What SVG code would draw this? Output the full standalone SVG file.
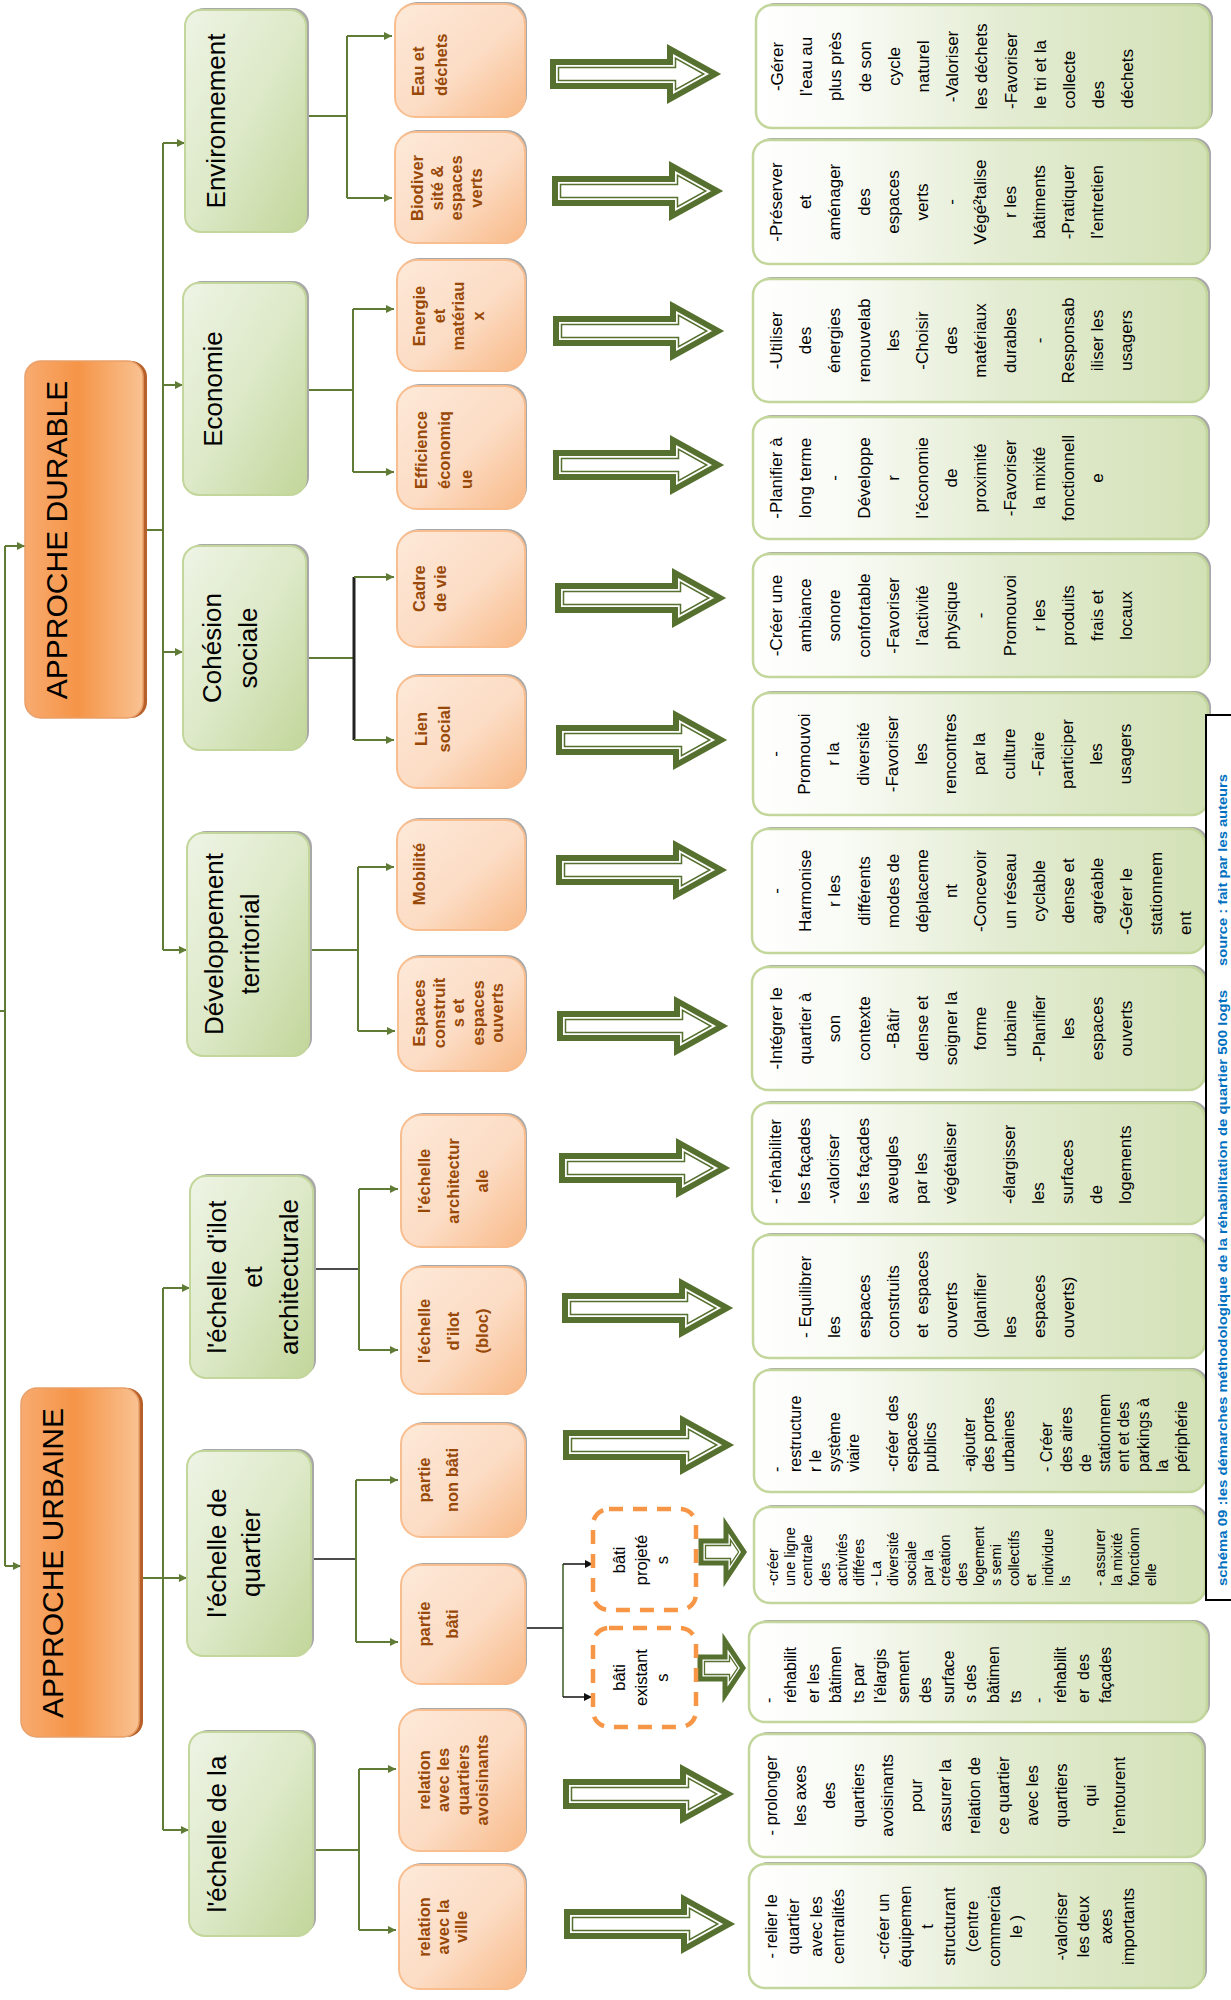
<svg xmlns="http://www.w3.org/2000/svg" xmlns:xlink="http://www.w3.org/1999/xlink" width="1231" height="2000" viewBox="0 0 1231 2000">
<defs>
<style>
text{font-family:"Liberation Sans",Arial,sans-serif;}
.l1{font-size:30px;fill:#000;text-anchor:middle}
.l2{font-size:26px;fill:#000;text-anchor:middle}
.l3{font-size:16.5px;font-weight:bold;fill:#984807;text-anchor:middle}
.l3s{font-size:16.5px;font-weight:bold;fill:#984807;text-anchor:start}
.d{font-size:16.5px;fill:#000;text-anchor:middle}
.m{font-size:17px;fill:#000;text-anchor:middle}
.s{font-size:17px;fill:#000;text-anchor:start}
.cap{font-size:13px;font-weight:bold;fill:#0070c0}
.b1{fill:url(#g1);stroke:#e9a06a;stroke-width:1.5}
.b1s{fill:#b8602a}
.b2{fill:url(#g2);stroke:#c3d69b;stroke-width:2}
.b3{fill:url(#g3);stroke:#f9be8f;stroke-width:2}
.b4{fill:url(#g4);stroke:#c3d69b;stroke-width:2.5}
.sh{fill:#a8a8a8}
.dash{fill:#fff;stroke:#f79646;stroke-width:4.5;stroke-dasharray:14 10}
.cg{fill:none;stroke:#5f7b35;stroke-width:2}
.ck{fill:none;stroke:#111;stroke-width:1.5}
</style>
<linearGradient id="g1" x1="0" y1="0" x2="1" y2="0">
<stop offset="0" stop-color="#f8ab70"/><stop offset="0.45" stop-color="#f59447"/><stop offset="1" stop-color="#f9c292"/>
</linearGradient>
<linearGradient id="g2" x1="0" y1="0" x2="1" y2="1">
<stop offset="0" stop-color="#eef4e5"/><stop offset="0.5" stop-color="#dde9c8"/><stop offset="1" stop-color="#c2d69a"/>
</linearGradient>
<linearGradient id="g3" x1="0" y1="0" x2="1" y2="1">
<stop offset="0" stop-color="#fde9d9"/><stop offset="0.55" stop-color="#fcdcc4"/><stop offset="1" stop-color="#f8b987"/>
</linearGradient>
<linearGradient id="g4" x1="0" y1="0" x2="1" y2="0">
<stop offset="0" stop-color="#ffffff"/><stop offset="0.2" stop-color="#f9fbf5"/><stop offset="0.55" stop-color="#e3ecd2"/><stop offset="1" stop-color="#d3e1b6"/>
</linearGradient>
<marker id="ag" viewBox="0 0 10 10" refX="10" refY="5" markerWidth="11" markerHeight="8" markerUnits="userSpaceOnUse" orient="auto"><path d="M0,0 L10,5 L0,10 z" fill="#5f7b35"/></marker>
<marker id="ak" viewBox="0 0 10 10" refX="10" refY="5" markerWidth="11" markerHeight="8" markerUnits="userSpaceOnUse" orient="auto"><path d="M0,0 L10,5 L0,10 z" fill="#111"/></marker>
<g id="ba">
<polygon points="3,-12 120,-12 120,-25 165,0 120,25 120,12 3,12" fill="#fff" stroke="#56702f" stroke-width="6"/>
<polygon points="8.5,-6.5 125.5,-6.5 125.5,-15.65 153.7,0 125.5,15.65 125.5,6.5 8.5,6.5" fill="none" stroke="#56702f" stroke-width="1.5"/>
</g>
<g id="sa">
<polygon points="2,-11 27,-11 27,-27 45,0 27,27 27,11 2,11" fill="#fff" stroke="#56702f" stroke-width="5"/>
<polygon points="6.5,-6.5 31.5,-6.5 31.5,-12.2 39.6,0 31.5,12.2 31.5,6.5 6.5,6.5" fill="none" stroke="#56702f" stroke-width="1.3"/>
</g>
</defs>
<rect width="1231" height="2000" fill="#fff"/>

<g id="connectors">
<path class="cg" d="M0,1011 H5 M5,546 V1566"/>
<path class="cg" marker-end="url(#ag)" d="M5,546 H25"/>
<path class="cg" marker-end="url(#ag)" d="M5,1566 H21"/>
<path class="cg" d="M147,530 H163 M163,143 V950"/>
<path class="cg" marker-end="url(#ag)" d="M163,143 H185"/>
<path class="cg" marker-end="url(#ag)" d="M163,385 H183"/>
<path class="cg" marker-end="url(#ag)" d="M163,652 H183"/>
<path class="cg" marker-end="url(#ag)" d="M163,950 H187"/>
<path class="cg" d="M143,1578 H163 M163,1288 V1830"/>
<path class="cg" marker-end="url(#ag)" d="M163,1288 H190"/>
<path class="cg" marker-end="url(#ag)" d="M163,1578 H187"/>
<path class="cg" marker-end="url(#ag)" d="M163,1830 H189"/>
<path class="cg" d="M306,116 H347 M347,36 V198"/>
<path class="cg" marker-end="url(#ag)" d="M347,36 H392"/>
<path class="cg" marker-end="url(#ag)" d="M347,198 H392"/>
<path class="cg" d="M306,390 H353 M353,309 V472"/>
<path class="cg" marker-end="url(#ag)" d="M353,309 H394"/>
<path class="cg" marker-end="url(#ag)" d="M353,472 H394"/>
<path class="cg" d="M306,658 H354"/>
<path fill="none" stroke="#222" stroke-width="3" d="M354,577 V740"/>
<path class="cg" marker-end="url(#ag)" d="M354,577 H394"/>
<path class="cg" marker-end="url(#ag)" d="M354,740 H394"/>
<path class="cg" d="M309,950 H358 M358,867 V1031"/>
<path class="cg" marker-end="url(#ag)" d="M358,867 H394"/>
<path class="cg" marker-end="url(#ag)" d="M358,1031 H395"/>
<path class="ck" d="M313,1269 H359"/>
<path class="cg" d="M359,1189 V1350"/>
<path class="cg" marker-end="url(#ag)" d="M359,1189 H398"/>
<path class="cg" marker-end="url(#ag)" d="M359,1350 H398"/>
<path class="ck" d="M311,1559 H356"/>
<path class="cg" d="M356,1480 V1642"/>
<path class="cg" marker-end="url(#ag)" d="M356,1480 H398"/>
<path class="cg" marker-end="url(#ag)" d="M356,1642 H398"/>
<path class="cg" d="M313,1850 H359 M359,1769 V1930"/>
<path class="cg" marker-end="url(#ag)" d="M359,1769 H396"/>
<path class="cg" marker-end="url(#ag)" d="M359,1930 H396"/>
<path class="ck" d="M525,1628 H563"/>
<path fill="none" stroke="#3d5a22" stroke-width="1.5" d="M563,1564 V1697"/>
<path class="ck" marker-end="url(#ak)" d="M563,1564 H593"/>
<path class="ck" marker-end="url(#ak)" d="M563,1697 H592"/>
<use href="#ba" transform="translate(550,74)"/>
<use href="#ba" transform="translate(552,191)"/>
<use href="#ba" transform="translate(553,331)"/>
<use href="#ba" transform="translate(553,465)"/>
<use href="#ba" transform="translate(555,598)"/>
<use href="#ba" transform="translate(556,740)"/>
<use href="#ba" transform="translate(556,870)"/>
<use href="#ba" transform="translate(557,1026)"/>
<use href="#ba" transform="translate(559,1168)"/>
<use href="#ba" transform="translate(562,1308)"/>
<use href="#ba" transform="translate(563,1445)"/>
<use href="#sa" transform="translate(699,1552)"/>
<use href="#sa" transform="translate(698,1668)"/>
<use href="#ba" transform="translate(563,1794)"/>
<use href="#ba" transform="translate(564,1924)"/>
</g>

<g id="approche-durable">
<rect class="b1s" x="29" y="361" width="118" height="357" rx="16"/>
<rect class="b1" x="25" y="361" width="118" height="357" rx="16"/>
<text class="l1" transform="translate(67,540) rotate(-90)">APPROCHE DURABLE</text>
</g>
<g id="approche-urbaine">
<rect class="b1s" x="25" y="1388" width="118" height="349" rx="16"/>
<rect class="b1" x="21" y="1388" width="118" height="349" rx="16"/>
<text class="l1" transform="translate(63,1563) rotate(-90)">APPROCHE URBAINE</text>
</g>

<g id="environnement">
<rect class="sh" x="188" y="8" width="121" height="222" rx="16"/>
<rect class="b2" x="185" y="10" width="121" height="222" rx="16"/>
<text class="l2" transform="translate(225,121) rotate(-90)">Environnement</text>
</g>
<g id="economie">
<rect class="sh" x="186" y="281" width="123" height="212" rx="16"/>
<rect class="b2" x="183" y="283" width="123" height="212" rx="16"/>
<text class="l2" transform="translate(222,389) rotate(-90)">Economie</text>
</g>
<g id="cohesion">
<rect class="sh" x="186" y="544" width="123" height="204" rx="16"/>
<rect class="b2" x="183" y="546" width="123" height="204" rx="16"/>
<text class="l2" transform="translate(221,648) rotate(-90)"><tspan x="0" y="0">Cohésion</tspan><tspan x="0" y="36">sociale</tspan></text>
</g>
<g id="developpement">
<rect class="sh" x="190" y="831" width="122" height="223" rx="16"/>
<rect class="b2" x="187" y="833" width="122" height="223" rx="16"/>
<text class="l2" transform="translate(223,944) rotate(-90)"><tspan x="0" y="0">Développement</tspan><tspan x="0" y="36">territorial</tspan></text>
</g>
<g id="echelle-ilot">
<rect class="sh" x="193" y="1174" width="123" height="202" rx="16"/>
<rect class="b2" x="190" y="1176" width="123" height="202" rx="16"/>
<text class="l2" transform="translate(226,1277) rotate(-90)"><tspan x="0" y="0">l'échelle d'ilot</tspan><tspan x="0" y="36">et</tspan><tspan x="0" y="72">architecturale</tspan></text>
</g>
<g id="echelle-quartier">
<rect class="sh" x="190" y="1449" width="124" height="205" rx="16"/>
<rect class="b2" x="187" y="1451" width="124" height="205" rx="16"/>
<text class="l2" transform="translate(226,1553) rotate(-90)"><tspan x="0" y="0">l'échelle de</tspan><tspan x="0" y="34">quartier</tspan></text>
</g>
<g id="echelle-ville">
<rect class="sh" x="192" y="1730" width="124" height="204" rx="16"/>
<rect class="b2" x="189" y="1732" width="124" height="204" rx="16"/>
<text class="l2" transform="translate(226,1834) rotate(-90)">l'échelle de la</text>
</g>

<g id="eau">
<rect class="sh" x="397" y="2" width="130" height="113" rx="20"/>
<rect class="b3" x="395" y="4" width="130" height="113" rx="20"/>
<text class="l3s" transform="translate(424,96) rotate(-90)"><tspan x="0" y="0">Eau et</tspan><tspan x="0" y="23">déchets</tspan></text>
</g>
<g id="biodiversite">
<rect class="sh" x="397" y="130" width="130" height="111" rx="20"/>
<rect class="b3" x="395" y="132" width="130" height="111" rx="20"/>
<text class="l3" transform="translate(423,188) rotate(-90)"><tspan x="0" y="0">Biodiver</tspan><tspan x="0" y="19.7">sité &amp;</tspan><tspan x="0" y="39.4">espaces</tspan><tspan x="0" y="59.1">verts</tspan></text>
</g>
<g id="energie">
<rect class="sh" x="399" y="258" width="128" height="111" rx="20"/>
<rect class="b3" x="397" y="260" width="128" height="111" rx="20"/>
<text class="l3" transform="translate(425,316) rotate(-90)"><tspan x="0" y="0">Energie</tspan><tspan x="0" y="19.7">et</tspan><tspan x="0" y="39.4">matériau</tspan><tspan x="0" y="59.1">x</tspan></text>
</g>
<g id="efficience">
<rect class="sh" x="399" y="384" width="128" height="123" rx="20"/>
<rect class="b3" x="397" y="386" width="128" height="123" rx="20"/>
<text class="l3s" transform="translate(427,489) rotate(-90)"><tspan x="0" y="0">Efficience</tspan><tspan x="0" y="22.5">économiq</tspan><tspan x="0" y="45">ue</tspan></text>
</g>
<g id="cadre">
<rect class="sh" x="399" y="529" width="128" height="116" rx="20"/>
<rect class="b3" x="397" y="531" width="128" height="116" rx="20"/>
<text class="l3s" transform="translate(425,612) rotate(-90)"><tspan x="0" y="0">Cadre</tspan><tspan x="0" y="21">de vie</tspan></text>
</g>
<g id="lien">
<rect class="sh" x="399" y="674" width="128" height="112" rx="20"/>
<rect class="b3" x="397" y="676" width="128" height="112" rx="20"/>
<text class="l3" transform="translate(427,729) rotate(-90)"><tspan x="0" y="0">Lien</tspan><tspan x="0" y="23">social</tspan></text>
</g>
<g id="mobilite">
<rect class="sh" x="399" y="818" width="128" height="110" rx="20"/>
<rect class="b3" x="397" y="820" width="128" height="110" rx="20"/>
<text class="l3" transform="translate(425,874) rotate(-90)">Mobilité</text>
</g>
<g id="espaces">
<rect class="sh" x="400" y="955" width="127" height="114" rx="20"/>
<rect class="b3" x="398" y="957" width="127" height="114" rx="20"/>
<text class="l3" transform="translate(425,1013) rotate(-90)"><tspan x="0" y="0">Espaces</tspan><tspan x="0" y="19.5">construit</tspan><tspan x="0" y="39">s et</tspan><tspan x="0" y="58.5">espaces</tspan><tspan x="0" y="78">ouverts</tspan></text>
</g>
<g id="architecturale">
<rect class="sh" x="403" y="1113" width="124" height="132" rx="20"/>
<rect class="b3" x="401" y="1115" width="124" height="132" rx="20"/>
<text class="l3" transform="translate(430,1181) rotate(-90)"><tspan x="0" y="0">l'échelle</tspan><tspan x="0" y="29">architectur</tspan><tspan x="0" y="58">ale</tspan></text>
</g>
<g id="ilot">
<rect class="sh" x="403" y="1265" width="124" height="127" rx="20"/>
<rect class="b3" x="401" y="1267" width="124" height="127" rx="20"/>
<text class="l3" transform="translate(430,1331) rotate(-90)"><tspan x="0" y="0">l'échelle</tspan><tspan x="0" y="29">d'ilot</tspan><tspan x="0" y="58">(bloc)</tspan></text>
</g>
<g id="non-bati">
<rect class="sh" x="403" y="1422" width="124" height="113" rx="20"/>
<rect class="b3" x="401" y="1424" width="124" height="113" rx="20"/>
<text class="l3" transform="translate(430,1480) rotate(-90)"><tspan x="0" y="0">partie</tspan><tspan x="0" y="28">non bâti</tspan></text>
</g>
<g id="bati">
<rect class="sh" x="403" y="1563" width="124" height="119" rx="20"/>
<rect class="b3" x="401" y="1565" width="124" height="119" rx="20"/>
<text class="l3" transform="translate(430,1624) rotate(-90)"><tspan x="0" y="0">partie</tspan><tspan x="0" y="28">bâti</tspan></text>
</g>
<g id="relation-quartiers">
<rect class="sh" x="401" y="1708" width="126" height="141" rx="20"/>
<rect class="b3" x="399" y="1710" width="126" height="141" rx="20"/>
<text class="l3" transform="translate(430,1780) rotate(-90)"><tspan x="0" y="0">relation</tspan><tspan x="0" y="19.3">avec les</tspan><tspan x="0" y="38.6">quartiers</tspan><tspan x="0" y="57.9">avoisinants</tspan></text>
</g>
<g id="relation-ville">
<rect class="sh" x="401" y="1863" width="126" height="124" rx="20"/>
<rect class="b3" x="399" y="1865" width="126" height="124" rx="20"/>
<text class="l3" transform="translate(430,1927) rotate(-90)"><tspan x="0" y="0">relation</tspan><tspan x="0" y="18.5">avec la</tspan><tspan x="0" y="37">ville</tspan></text>
</g>

<g id="bati-projetes">
<rect class="dash" x="593" y="1509" width="103" height="101" rx="16"/>
<text class="d" transform="translate(625,1560) rotate(-90)"><tspan x="0" y="0">bâti</tspan><tspan x="0" y="21.5">projeté</tspan><tspan x="0" y="43">s</tspan></text>
</g>
<g id="bati-existants">
<rect class="dash" x="593" y="1628" width="103" height="99" rx="16"/>
<text class="d" transform="translate(625,1677.5) rotate(-90)"><tspan x="0" y="0">bâti</tspan><tspan x="0" y="21.5">existant</tspan><tspan x="0" y="43">s</tspan></text>
</g>

<g id="box1">
<rect class="sh" x="759" y="3" width="454" height="123" rx="16"/>
<rect class="b4" x="756" y="5" width="454" height="123" rx="16"/>
<text transform="translate(783,66.5) rotate(-90)"><tspan class="m" x="0" y="0">-Gérer</tspan><tspan class="m" x="0" y="29.2">l’eau au</tspan><tspan class="m" x="0" y="58.4">plus près</tspan><tspan class="m" x="0" y="87.6">de son</tspan><tspan class="m" x="0" y="116.8">cycle</tspan><tspan class="m" x="0" y="146">naturel</tspan><tspan class="m" x="0" y="175.2">-Valoriser</tspan><tspan class="m" x="0" y="204.4">les déchets</tspan><tspan class="s" x="-42.5" y="233.6">-Favoriser</tspan><tspan class="s" x="-42.5" y="262.8">le tri et la</tspan><tspan class="s" x="-42" y="292">collecte</tspan><tspan class="s" x="-42" y="321.2">des</tspan><tspan class="s" x="-42" y="350.4">déchets</tspan></text>
</g>
<g id="box2">
<rect class="sh" x="756" y="138" width="455" height="124" rx="16"/>
<rect class="b4" x="753" y="140" width="455" height="124" rx="16"/>
<text class="m" transform="translate(782,202) rotate(-90)"><tspan x="0" y="0">-Préserver</tspan><tspan x="0" y="29.2">et</tspan><tspan x="0" y="58.4">aménager</tspan><tspan x="0" y="87.6">des</tspan><tspan x="0" y="116.8">espaces</tspan><tspan x="0" y="146">verts</tspan><tspan x="0" y="175.2">-</tspan><tspan x="0" y="204.4">Végé²talise</tspan><tspan x="0" y="233.6">r les</tspan><tspan x="0" y="262.8">bâtiments</tspan><tspan x="0" y="292">-Pratiquer</tspan><tspan x="0" y="321.2">l’entretien</tspan></text>
</g>
<g id="box3">
<rect class="sh" x="756" y="277" width="454" height="123" rx="16"/>
<rect class="b4" x="753" y="279" width="454" height="123" rx="16"/>
<text class="m" transform="translate(782,340.5) rotate(-90)"><tspan x="0" y="0">-Utiliser</tspan><tspan x="0" y="29.2">des</tspan><tspan x="0" y="58.4">énergies</tspan><tspan x="0" y="87.6">renouvelab</tspan><tspan x="0" y="116.8">les</tspan><tspan x="0" y="146">-Choisir</tspan><tspan x="0" y="175.2">des</tspan><tspan x="0" y="204.4">matériaux</tspan><tspan x="0" y="233.6">durables</tspan><tspan x="0" y="262.8">-</tspan><tspan x="0" y="292">Responsab</tspan><tspan x="0" y="321.2">iliser les</tspan><tspan x="0" y="350.4">usagers</tspan></text>
</g>
<g id="box4">
<rect class="sh" x="756" y="415" width="454" height="122" rx="16"/>
<rect class="b4" x="753" y="417" width="454" height="122" rx="16"/>
<text class="m" transform="translate(782,478) rotate(-90)"><tspan x="0" y="0">-Planifier à</tspan><tspan x="0" y="29.2">long terme</tspan><tspan x="0" y="58.4">-</tspan><tspan x="0" y="87.6">Développe</tspan><tspan x="0" y="116.8">r</tspan><tspan x="0" y="146">l’économie</tspan><tspan x="0" y="175.2">de</tspan><tspan x="0" y="204.4">proximité</tspan><tspan x="0" y="233.6">-Favoriser</tspan><tspan x="0" y="262.8">la mixité</tspan><tspan x="0" y="292">fonctionnell</tspan><tspan x="0" y="321.2">e</tspan></text>
</g>
<g id="box5">
<rect class="sh" x="756" y="552" width="455" height="123" rx="16"/>
<rect class="b4" x="753" y="554" width="455" height="123" rx="16"/>
<text class="m" transform="translate(782,615.5) rotate(-90)"><tspan x="0" y="0">-Créer une</tspan><tspan x="0" y="29.2">ambiance</tspan><tspan x="0" y="58.4">sonore</tspan><tspan x="0" y="87.6">confortable</tspan><tspan x="0" y="116.8">-Favoriser</tspan><tspan x="0" y="146">l’activité</tspan><tspan x="0" y="175.2">physique</tspan><tspan x="0" y="204.4">-</tspan><tspan x="0" y="233.6">Promouvoi</tspan><tspan x="0" y="262.8">r les</tspan><tspan x="0" y="292">produits</tspan><tspan x="0" y="321.2">frais et</tspan><tspan x="0" y="350.4">locaux</tspan></text>
</g>
<g id="box6">
<rect class="sh" x="756" y="691" width="455" height="122" rx="16"/>
<rect class="b4" x="753" y="693" width="455" height="122" rx="16"/>
<text class="m" transform="translate(781,754) rotate(-90)"><tspan x="0" y="0">-</tspan><tspan x="0" y="29.2">Promouvoi</tspan><tspan x="0" y="58.4">r la</tspan><tspan x="0" y="87.6">diversité</tspan><tspan x="0" y="116.8">-Favoriser</tspan><tspan x="0" y="146">les</tspan><tspan x="0" y="175.2">rencontres</tspan><tspan x="0" y="204.4">par la</tspan><tspan x="0" y="233.6">culture</tspan><tspan x="0" y="262.8">-Faire</tspan><tspan x="0" y="292">participer</tspan><tspan x="0" y="321.2">les</tspan><tspan x="0" y="350.4">usagers</tspan></text>
</g>
<g id="box7">
<rect class="sh" x="755" y="827" width="453" height="124" rx="16"/>
<rect class="b4" x="752" y="829" width="453" height="124" rx="16"/>
<text transform="translate(782,891) rotate(-90)"><tspan class="m" x="0" y="0">-</tspan><tspan class="m" x="0" y="29.2">Harmonise</tspan><tspan class="m" x="0" y="58.4">r les</tspan><tspan class="m" x="0" y="87.6">différents</tspan><tspan class="m" x="0" y="116.8">modes de</tspan><tspan class="m" x="0" y="146">déplaceme</tspan><tspan class="m" x="0" y="175.2">nt</tspan><tspan class="m" x="0" y="204.4">-Concevoir</tspan><tspan class="m" x="0" y="233.6">un réseau</tspan><tspan class="m" x="0" y="262.8">cyclable</tspan><tspan class="m" x="0" y="292">dense et</tspan><tspan class="m" x="0" y="321.2">agréable</tspan><tspan class="s" x="-44" y="350.4">-Gérer le</tspan><tspan class="s" x="-44" y="379.6">stationnem</tspan><tspan class="s" x="-44" y="408.8">ent</tspan></text>
</g>
<g id="box8">
<rect class="sh" x="755" y="965" width="453" height="123" rx="16"/>
<rect class="b4" x="752" y="967" width="453" height="123" rx="16"/>
<text class="m" transform="translate(782,1028.5) rotate(-90)"><tspan x="0" y="0">-Intégrer le</tspan><tspan x="0" y="29.2">quartier à</tspan><tspan x="0" y="58.4">son</tspan><tspan x="0" y="87.6">contexte</tspan><tspan x="0" y="116.8">-Bâtir</tspan><tspan x="0" y="146">dense et</tspan><tspan x="0" y="175.2">soigner la</tspan><tspan x="0" y="204.4">forme</tspan><tspan x="0" y="233.6">urbaine</tspan><tspan x="0" y="262.8">-Planifier</tspan><tspan x="0" y="292">les</tspan><tspan x="0" y="321.2">espaces</tspan><tspan x="0" y="350.4">ouverts</tspan></text>
</g>
<g id="box9">
<rect class="sh" x="755" y="1101" width="453" height="121" rx="16"/>
<rect class="b4" x="752" y="1103" width="453" height="121" rx="16"/>
<text class="s" transform="translate(781,1204) rotate(-90)"><tspan x="0" y="0">- réhabiliter</tspan><tspan x="0" y="29.2">les façades</tspan><tspan x="0" y="58.4">-valoriser</tspan><tspan x="0" y="87.6">les façades</tspan><tspan x="0" y="116.8">aveugles</tspan><tspan x="0" y="146">par les</tspan><tspan x="0" y="175.2">végétaliser</tspan><tspan x="0" y="233.6">-élargisser</tspan><tspan x="0" y="262.8">les</tspan><tspan x="0" y="292">surfaces</tspan><tspan x="0" y="321.2">de</tspan><tspan x="0" y="350.4">logements</tspan></text>
</g>
<g id="box10">
<rect class="sh" x="756" y="1233" width="452" height="123" rx="16"/>
<rect class="b4" x="753" y="1235" width="452" height="123" rx="16"/>
<text class="s" transform="translate(782,1338) rotate(-90)" xml:space="preserve"><tspan x="0" y="29.2">- Equilibrer</tspan><tspan x="0" y="58.4">les</tspan><tspan x="0" y="87.6">espaces</tspan><tspan x="0" y="116.8">construits</tspan><tspan x="0" y="146">et  espaces</tspan><tspan x="0" y="175.2">ouverts</tspan><tspan x="0" y="204.4">(planifier</tspan><tspan x="0" y="233.6">les</tspan><tspan x="0" y="262.8">espaces</tspan><tspan x="0" y="292">ouverts)</tspan></text>
</g>
<g id="box11">
<rect class="sh" x="757" y="1368" width="451" height="122" rx="16"/>
<rect class="b4" x="754" y="1370" width="451" height="122" rx="16"/>
<text class="s" style="font-size:16px" transform="translate(782,1472) rotate(-90)" xml:space="preserve"><tspan x="0" y="0">-</tspan><tspan x="0" y="19.3">restructure</tspan><tspan x="0" y="38.6">r le</tspan><tspan x="0" y="57.9">système</tspan><tspan x="0" y="77.2">viaire</tspan><tspan x="0" y="115.8">-créer  des</tspan><tspan x="0" y="135.1">espaces</tspan><tspan x="0" y="154.4">publics</tspan><tspan x="0" y="193">-ajouter</tspan><tspan x="0" y="212.3">des portes</tspan><tspan x="0" y="231.6">urbaines</tspan><tspan x="0" y="270.2">- Créer</tspan><tspan x="0" y="289.5">des aires</tspan><tspan x="0" y="308.8">de</tspan><tspan x="0" y="328.1">stationnem</tspan><tspan x="0" y="347.4">ent et des</tspan><tspan x="0" y="366.7">parkings à</tspan><tspan x="0" y="386">la</tspan><tspan x="0" y="405.3">périphérie</tspan></text>
</g>
<g id="box12">
<rect class="sh" x="757" y="1505" width="451" height="96" rx="16"/>
<rect class="b4" x="754" y="1507" width="451" height="96" rx="16"/>
<text class="s" style="font-size:14.5px" transform="translate(778,1586) rotate(-90)"><tspan x="0" y="0">-créer</tspan><tspan x="0" y="17.19">une ligne</tspan><tspan x="0" y="34.38">centrale</tspan><tspan x="0" y="51.57">des</tspan><tspan x="0" y="68.76">activités</tspan><tspan x="0" y="85.95">différes</tspan><tspan x="0" y="103.14">- La</tspan><tspan x="0" y="120.33">diversité</tspan><tspan x="0" y="137.52">sociale</tspan><tspan x="0" y="154.71">par la</tspan><tspan x="0" y="171.9">création</tspan><tspan x="0" y="189.09">des</tspan><tspan x="0" y="206.28">logement</tspan><tspan x="0" y="223.47">s semi</tspan><tspan x="0" y="240.66">collectifs</tspan><tspan x="0" y="257.85">et</tspan><tspan x="0" y="275.04">individue</tspan><tspan x="0" y="292.23">ls</tspan><tspan x="0" y="326.61">- assurer</tspan><tspan x="0" y="343.8">la mixité</tspan><tspan x="0" y="360.99">fonctionn</tspan><tspan x="0" y="378.18">elle</tspan></text>
</g>
<g id="box13">
<rect class="sh" x="752" y="1620" width="458" height="100" rx="16"/>
<rect class="b4" x="749" y="1622" width="458" height="100" rx="16"/>
<text class="s" style="font-size:16px" transform="translate(773.5,1703) rotate(-90)" xml:space="preserve"><tspan x="0" y="0">-</tspan><tspan x="0" y="22.5">réhabilit</tspan><tspan x="0" y="45">er les</tspan><tspan x="0" y="67.5">bâtimen</tspan><tspan x="0" y="90">ts par</tspan><tspan x="0" y="112.5">l’élargis</tspan><tspan x="0" y="135">sement</tspan><tspan x="0" y="157.5">des</tspan><tspan x="0" y="180">surface</tspan><tspan x="0" y="202.5">s des</tspan><tspan x="0" y="225">bâtimen</tspan><tspan x="0" y="247.5">ts</tspan><tspan x="0" y="270">-</tspan><tspan x="0" y="292.5">réhabilit</tspan><tspan x="0" y="315">er  des</tspan><tspan x="0" y="337.5">façades</tspan></text>
</g>
<g id="box14">
<rect class="sh" x="752" y="1732" width="454" height="123" rx="16"/>
<rect class="b4" x="749" y="1734" width="454" height="123" rx="16"/>
<text class="m" style="font-size:16.5px" transform="translate(777,1795.5) rotate(-90)"><tspan x="0" y="0">- prolonger</tspan><tspan x="0" y="29">les axes</tspan><tspan x="0" y="58">des</tspan><tspan x="0" y="87">quartiers</tspan><tspan x="0" y="116">avoisinants</tspan><tspan x="0" y="145">pour</tspan><tspan x="0" y="174">assurer la</tspan><tspan x="0" y="203">relation de</tspan><tspan x="0" y="232">ce quartier</tspan><tspan x="0" y="261">avec les</tspan><tspan x="0" y="290">quartiers</tspan><tspan x="0" y="319">qui</tspan><tspan x="0" y="348">l’entourent</tspan></text>
</g>
<g id="box15">
<rect class="sh" x="752" y="1862" width="455" height="124" rx="16"/>
<rect class="b4" x="749" y="1864" width="455" height="124" rx="16"/>
<text class="m" style="font-size:16.5px" transform="translate(777,1926.5) rotate(-90)"><tspan x="0" y="0">- relier le</tspan><tspan x="0" y="22.3">quartier</tspan><tspan x="0" y="44.6">avec les</tspan><tspan x="0" y="66.9">centralités</tspan><tspan x="0" y="111.5">-créer un</tspan><tspan x="0" y="133.8">équipemen</tspan><tspan x="0" y="156.1">t</tspan><tspan x="0" y="178.4">structurant</tspan><tspan x="0" y="200.7">(centre</tspan><tspan x="0" y="223">commercia</tspan><tspan x="0" y="245.3">le )</tspan><tspan x="0" y="289.9">-valoriser</tspan><tspan x="0" y="312.2">les deux</tspan><tspan x="0" y="334.5">axes</tspan><tspan x="0" y="356.8">importants</tspan></text>
</g>

<g id="caption">
<rect x="1206" y="715" width="40" height="885" fill="#fff" stroke="#000" stroke-width="2"/>
<text class="cap" transform="translate(1227,1586) rotate(-90)" textLength="596" lengthAdjust="spacingAndGlyphs">schéma 09 :les démarches méthodologique de la réhabilitation de quartier 500 logts</text>
<text class="cap" transform="translate(1227,966) rotate(-90)" textLength="192" lengthAdjust="spacingAndGlyphs">source : fait par les auteurs</text>
</g>
</svg>
